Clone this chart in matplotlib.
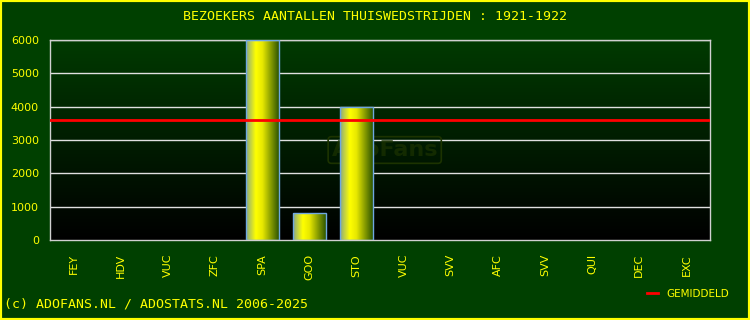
import numpy as np
import matplotlib.pyplot as plt
from matplotlib.colors import LinearSegmentedColormap

# data
clubs = ["FEY", "HDV", "VUC", "ZFC", "SPA", "GOO", "STO", "VUC", "SVV", "AFC", "SVV", "QUI", "DEC", "EXC"]
bezoekers = [0, 0, 0, 0, 6000, 800, 4000, 0, 0, 0, 0, 0, 0, 0]
gemiddeld = 3600
yticks = [0, 1000, 2000, 3000, 4000, 5000, 6000]

yellow = "#ffff00"
bg = "#004000"

fig = plt.figure(figsize=(7.5, 3.2), dpi=100, facecolor=bg)
ax = fig.add_axes([50 / 750, 80 / 320, 660 / 750, 200 / 320])
ax.set_facecolor("none")

x = np.arange(len(clubs))
ax.set_xlim(-0.5, len(clubs) - 0.5)
ax.set_ylim(0, 6000)

# verloop achtergrond (boven donkergroen, onder zwart)
grad = np.linspace(0, 1, 256).reshape(-1, 1)
bg_cmap = LinearSegmentedColormap.from_list("bg", ["#000000", "#003a00"])
ax.imshow(grad, cmap=bg_cmap, aspect="auto", origin="lower",
          extent=[-0.5, len(clubs) - 0.5, 0, 6000], zorder=0)

for yv in yticks[1:]:
    ax.axhline(yv, color="#e0e0e0", lw=1, zorder=1)

# balken met horizontaal verloop
bar_cmap = LinearSegmentedColormap.from_list(
    "bar", [(0, "#8aa882"), (0.3, "#ffff00"), (0.5, "#e8e800"), (1.0, "#2d5500")])
hgrad = np.linspace(0, 1, 256).reshape(1, -1)
edges = ["#6fa8e0" if v > 0 else "none" for v in bezoekers]
bars = ax.bar(x, bezoekers, width=0.7, color="none", edgecolor=edges, lw=1, zorder=3)
for b, v in zip(bars, bezoekers):
    if v <= 0:
        continue
    x0, w = b.get_x(), b.get_width()
    im = ax.imshow(hgrad, cmap=bar_cmap, aspect="auto",
                   extent=[x0, x0 + w, 0, v], zorder=2)
    im.set_clip_path(b)

ax.axhline(gemiddeld, color="#ff0000", lw=2, zorder=4, label="GEMIDDELD")

# watermerk
ax.text(6.6, 2700, "AdoFans", color="#1c3300", fontsize=16, fontweight="bold",
        ha="center", va="center", zorder=1.5, alpha=0.7,
        bbox=dict(boxstyle="round,pad=0.15", fc="none", ec="#1c3300", lw=1.2))

ax.set_xticks(x)
ax.set_xticklabels(clubs, rotation=90, color=yellow, fontsize=8)
ax.set_yticks(yticks)
ax.set_yticklabels([str(t) for t in yticks], color=yellow, fontsize=8)
ax.tick_params(length=0, pad=10, axis="x")
ax.tick_params(length=0, pad=8, axis="y")
for s in ax.spines.values():
    s.set_color("#d0d0d0")
    s.set_linewidth(1)

fig.text(0.5, 1 - 17 / 320, "BEZOEKERS AANTALLEN THUISWEDSTRIJDEN : 1921-1922",
         color=yellow, fontsize=9.5, family="DejaVu Sans Mono", ha="center", va="center")
fig.text(4 / 750, 1 - 304 / 320, "(c) ADOFANS.NL / ADOSTATS.NL 2006-2025",
         color=yellow, fontsize=9.5, family="DejaVu Sans Mono", ha="left", va="center")

leg = ax.legend(loc="center left", bbox_to_anchor=(638 / 750, 1 - 294 / 320),
                bbox_transform=fig.transFigure, frameon=False, fontsize=7.5,
                handlelength=1.0, handletextpad=0.8, labelcolor=yellow)

# gele rand
fig.patches.append(plt.Rectangle((0, 0), 1, 1, transform=fig.transFigure,
                                 fill=False, ec=yellow, lw=3))

fig.savefig("out.png", dpi=100, facecolor=bg)
